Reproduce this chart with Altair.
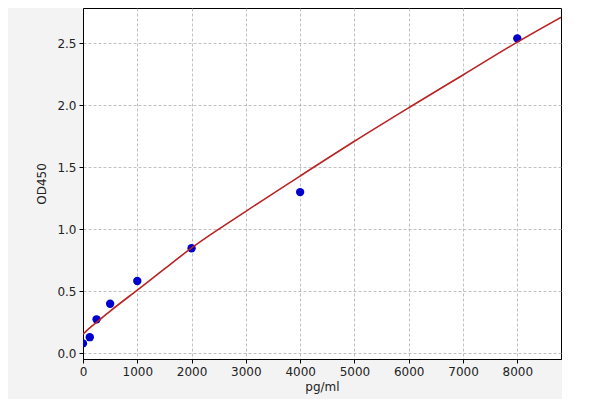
import altair as alt
import pandas as pd

# Measured standards
conc = [0, 125, 250, 500, 1000, 2000, 4000, 8000]
od = [0.08, 0.13, 0.274, 0.40, 0.583, 0.847, 1.30, 2.54]

# Fitted curve
curve_x = [0, 125, 250, 500, 1000, 1500, 2000, 3000, 4000, 5000, 6000, 7000, 8000, 8805]
curve_y = [0.155, 0.205, 0.25, 0.34, 0.51, 0.68, 0.85, 1.145, 1.43, 1.71, 1.98, 2.245, 2.51, 2.71]

x_ticks = [0, 1000, 2000, 3000, 4000, 5000, 6000, 7000, 8000]
y_ticks = [0.0, 0.5, 1.0, 1.5, 2.0, 2.5]

pts = pd.DataFrame({"conc": conc, "od": od})
crv = pd.DataFrame({"conc": curve_x, "od": curve_y})

FONT = "DejaVu Sans"

xs = alt.Scale(domain=[0, 8805], nice=False, zero=False)
ys = alt.Scale(domain=[-0.046, 2.785], nice=False, zero=False)

x_axis = alt.Axis(values=x_ticks, title="pg/ml", format="d", grid=True, labelFlush=False)
y_axis = alt.Axis(values=y_ticks, title="OD450", format=".1f", grid=True, labelFlush=False)

line = alt.Chart(crv).mark_line(
    color="#bb2222", strokeWidth=1.6, clip=True, interpolate="monotone"
).encode(
    x=alt.X("conc:Q", scale=xs, axis=x_axis),
    y=alt.Y("od:Q", scale=ys, axis=y_axis),
)

points = alt.Chart(pts).mark_circle(color="#0000cc", size=70, opacity=1, clip=True).encode(
    x=alt.X("conc:Q", scale=xs),
    y=alt.Y("od:Q", scale=ys),
)

chart = (
    alt.layer(points, line)
    .properties(
        width=478,
        height=351,
        background="#f3f3f3",
        padding={"left": 75, "top": 0, "right": 1, "bottom": 40},
        autosize=alt.AutoSizeParams(type="none"),
    )
    .configure_view(fill="white", stroke="black", strokeWidth=1)
    .configure_axis(
        labelFont=FONT,
        titleFont=FONT,
        labelFontSize=12,
        titleFontSize=12,
        labelColor="#222222",
        titleColor="#222222",
        titleFontWeight="normal",
        domainColor="black",
        tickColor="black",
        tickSize=4,
        labelPadding=3,
        gridColor="#b0b0b0",
        gridDash=[3, 2],
        gridWidth=0.8,
    )
    .configure_axisX(titlePadding=4)
    .configure_axisY(titlePadding=8)
)

chart.save("out.html", embed_options={"renderer": "svg", "actions": False})
